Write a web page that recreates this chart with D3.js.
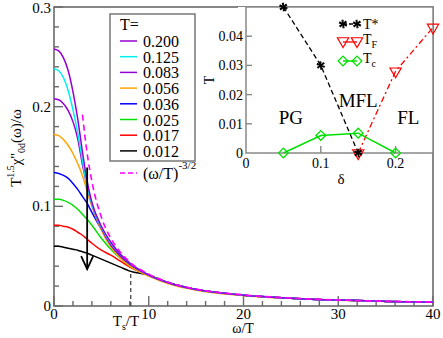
<!DOCTYPE html>
<html>
<head>
<meta charset="utf-8">
<script src="https://cdn.jsdelivr.net/npm/d3@7"></script>
<style>
  body { margin: 0; background: #fff; }
  svg { display: block; }
</style>
</head>
<body>
<div id="chart"></div>
<script>
// Main chart data
var temps = ['0.200', '0.125', '0.083', '0.056', '0.036', '0.025', '0.017', '0.012'];
var colors = ['#9400d3', '#00f0f0', '#9400d3', '#ffa500', '#0000ff', '#00e000', '#ff0000', '#000000'];
var omegaT = [0, 0.5, 1, 1.5, 2, 2.5, 3, 3.5, 4, 5, 6, 7, 8, 10, 12, 15, 20, 25, 30, 35, 40];
var tail = [0.031, 0.0235, 0.0165, 0.0108, 0.0078, 0.0059, 0.0046, 0.0037];
var chiT200 = [0.258, 0.256, 0.249, 0.236, 0.215, 0.188, 0.155, 0.125, 0.104, 0.080, 0.064, 0.052, 0.043].concat(tail);
var chiT125 = [0.238, 0.236, 0.229, 0.216, 0.197, 0.174, 0.146, 0.120, 0.102, 0.079, 0.063, 0.052, 0.043].concat(tail);
var chiT083 = [0.208, 0.207, 0.203, 0.196, 0.185, 0.168, 0.142, 0.120, 0.102, 0.078, 0.061, 0.050, 0.042].concat(tail);
var chiT056 = [0.172, 0.171, 0.167, 0.161, 0.153, 0.143, 0.131, 0.115, 0.100, 0.076, 0.059, 0.048, 0.040, 0.030, 0.0225, 0.0158, 0.0104, 0.0077, 0.0058, 0.0046, 0.0037];
var chiT036 = [0.134, 0.133, 0.131, 0.128, 0.123, 0.117, 0.110, 0.103, 0.094, 0.077, 0.062, 0.051, 0.042].concat(tail);
var chiT025 = [0.107, 0.107, 0.106, 0.104, 0.101, 0.097, 0.092, 0.087, 0.081, 0.068, 0.057, 0.048, 0.041].concat(tail);
var chiT017 = [0.081, 0.081, 0.080, 0.079, 0.077, 0.074, 0.071, 0.067, 0.063, 0.056, 0.051, 0.045, 0.039].concat(tail);
var chiT012 = [0.060, 0.060, 0.059, 0.058, 0.057, 0.056, 0.0545, 0.053, 0.051, 0.047, 0.043, 0.039, 0.035].concat(tail);
var chiSeries = [chiT200, chiT125, chiT083, chiT056, chiT036, chiT025, chiT017, chiT012];

// (omega/T)^-3/2 reference line
var powerX = [3.0, 3.5, 4, 5, 6, 7, 8, 10, 12, 15, 20, 25, 30, 35, 40];
var powerY = [0.192, 0.153, 0.125, 0.089, 0.068, 0.054, 0.044, 0.032, 0.024, 0.017, 0.0112, 0.008, 0.0061, 0.0048, 0.0040];

var tsOverT = 8.1, tsValue = 0.034;
var arrowX = 3.5, arrowTop = 0.139, arrowBottom = 0.037;

// Inset (phase diagram) data
var tStar = [[0.05, 0.05], [0.1, 0.03], [0.15, 0]];
var tF = [[0.15, 0], [0.2, 0.028], [0.25, 0.043]];
var tC = [[0.05, 0], [0.1, 0.006], [0.15, 0.0068], [0.2, 0]];
var regions = [{ name: 'PG', d: 0.06, t: 0.0125 }, { name: 'MFL', d: 0.15, t: 0.0183 }, { name: 'FL', d: 0.217, t: 0.0125 }];

var W = 443, H = 338;
var svg = d3.select('#chart').append('svg').attr('width', W).attr('height', H)
  .attr('font-family', '"Liberation Serif", Tinos, "DejaVu Serif", "Noto Serif", FreeSerif, "Times New Roman", serif');

var x = d3.scaleLinear().domain([0, 40]).range([54, 433]);
var y = d3.scaleLinear().domain([0, 0.3]).range([306, 7]);
var frame = '#6a6a6a';

// Frame
svg.append('rect')
  .attr('x', x(0)).attr('y', y(0.3))
  .attr('width', x(40) - x(0)).attr('height', y(0) - y(0.3))
  .attr('fill', 'none').attr('stroke', frame).attr('stroke-width', 1.6);

// Ticks (inward)
var xMinor = d3.range(0, 41, 2);
svg.selectAll('.xt').data(xMinor).enter().append('line')
  .attr('x1', function (d) { return x(d); }).attr('x2', function (d) { return x(d); })
  .attr('y1', y(0)).attr('y2', function (d) { return y(0) - (d % 10 === 0 ? 10 : 5); })
  .attr('stroke', frame).attr('stroke-width', 1.4);
var yMinor = d3.range(0, 0.301, 0.02);
svg.selectAll('.yt').data(yMinor).enter().append('line')
  .attr('y1', function (d) { return y(d); }).attr('y2', function (d) { return y(d); })
  .attr('x1', x(0)).attr('x2', function (d, i) { return x(0) + (i % 5 === 0 ? 9 : 5); })
  .attr('stroke', frame).attr('stroke-width', 1.4);

svg.selectAll('.xl').data([0, 10, 20, 30, 40]).enter().append('text')
  .attr('x', function (d) { return x(d); }).attr('y', 319)
  .attr('text-anchor', 'middle').attr('font-size', 15)
  .text(function (d) { return d; });
svg.selectAll('.yl').data([0, 0.1, 0.2, 0.3]).enter().append('text')
  .attr('x', 51).attr('y', function (d) { return Math.max(y(d) + 5, 13); })
  .attr('text-anchor', 'end').attr('font-size', 15)
  .text(function (d) { return d; });

// Axis titles
svg.append('text').attr('x', 243).attr('y', 333).attr('text-anchor', 'middle')
  .attr('font-size', 14).text('ω/T');
var yt = svg.append('text').attr('transform', 'translate(21,148) rotate(-90)')
  .attr('text-anchor', 'middle').attr('font-size', 15);
yt.append('tspan').text('T');
yt.append('tspan').attr('dy', -7).attr('font-size', 10).text('1.5');
yt.append('tspan').attr('dy', 7).text('χ\'\'');
yt.append('tspan').attr('dy', 4).attr('font-size', 10).text('0d');
yt.append('tspan').attr('dy', -4).text('(ω)/ω');

// Curves
svg.append('clipPath').attr('id', 'clip').append('rect')
  .attr('x', x(0)).attr('y', y(0.3)).attr('width', x(40) - x(0)).attr('height', y(0) - y(0.3));
var line = d3.line()
  .x(function (d) { return x(d[0]); })
  .y(function (d) { return y(d[1]); })
  .curve(d3.curveMonotoneX);
var plot = svg.append('g').attr('clip-path', 'url(#clip)');
chiSeries.slice().reverse().forEach(function (s, k) {
  var i = chiSeries.length - 1 - k;
  plot.append('path')
    .datum(omegaT.map(function (w, j) { return [w, s[j]]; }))
    .attr('fill', 'none').attr('stroke', colors[i]).attr('stroke-width', 1.5)
    .attr('d', line);
});
plot.append('path')
  .datum(powerX.map(function (w, j) { return [w, powerY[j]]; }))
  .attr('fill', 'none').attr('stroke', '#ff00ff').attr('stroke-width', 1.6)
  .attr('stroke-dasharray', '6,4')
  .attr('d', line);

// Ts/T marker
svg.append('line')
  .attr('x1', x(tsOverT)).attr('x2', x(tsOverT)).attr('y1', y(0)).attr('y2', y(tsValue))
  .attr('stroke', '#444').attr('stroke-width', 1.3).attr('stroke-dasharray', '4,3');
var ts = svg.append('text').attr('x', x(tsOverT) - 18).attr('y', 326).attr('font-size', 15);
ts.append('tspan').text('T');
ts.append('tspan').attr('dy', 4).attr('font-size', 10).text('s');
ts.append('tspan').attr('dy', -4).text('/T');

// Arrow
svg.append('line')
  .attr('x1', x(arrowX)).attr('x2', x(arrowX)).attr('y1', y(arrowTop)).attr('y2', y(arrowBottom))
  .attr('stroke', '#000').attr('stroke-width', 1.8);
svg.append('path')
  .attr('d', 'M' + (x(arrowX) - 6) + ',' + (y(arrowBottom) - 13) + 'L' + x(arrowX) + ',' + y(arrowBottom) +
    'L' + (x(arrowX) + 6) + ',' + (y(arrowBottom) - 13))
  .attr('fill', 'none').attr('stroke', '#000').attr('stroke-width', 1.8);

// Legend
var leg = svg.append('g');
leg.append('rect').attr('x', 110).attr('y', 14).attr('width', 85).attr('height', 147)
  .attr('fill', '#fff').attr('stroke', '#777').attr('stroke-width', 1.5);
leg.append('text').attr('x', 120).attr('y', 30).attr('font-size', 16).text('T=');
temps.forEach(function (t, i) {
  var ly = 41 + i * 15.7;
  leg.append('line').attr('x1', 120).attr('x2', 137).attr('y1', ly).attr('y2', ly)
    .attr('stroke', colors[i]).attr('stroke-width', 1.5);
  leg.append('text').attr('x', 143).attr('y', ly + 6).attr('font-size', 16).text(t);
});
leg.append('line').attr('x1', 120).attr('x2', 137).attr('y1', 173).attr('y2', 173)
  .attr('stroke', '#ff00ff').attr('stroke-width', 1.6).attr('stroke-dasharray', '5,3');
var pl = leg.append('text').attr('x', 143).attr('y', 179).attr('font-size', 16);
pl.append('tspan').text('(ω/T)');
pl.append('tspan').attr('dy', -10).attr('font-size', 11).text('-3/2');

// Inset
var ix = d3.scaleLinear().domain([0, 0.25]).range([246, 433]);
var iy = d3.scaleLinear().domain([0, 0.05]).range([153, 7]);
var inset = svg.append('g');
inset.append('rect').attr('x', 238).attr('y', 7).attr('width', 195).attr('height', 146).attr('fill', '#fff');
inset.append('rect').attr('x', ix(0)).attr('y', iy(0.05))
  .attr('width', ix(0.25) - ix(0)).attr('height', iy(0) - iy(0.05))
  .attr('fill', 'none').attr('stroke', '#888').attr('stroke-width', 1.5);
inset.selectAll('.ixt').data([0.1, 0.2]).enter().append('line')
  .attr('x1', function (d) { return ix(d); }).attr('x2', function (d) { return ix(d); })
  .attr('y1', iy(0)).attr('y2', iy(0) - 7).attr('stroke', '#888').attr('stroke-width', 1.4);
inset.selectAll('.iyt').data([0.01, 0.02, 0.03, 0.04]).enter().append('line')
  .attr('y1', function (d) { return iy(d); }).attr('y2', function (d) { return iy(d); })
  .attr('x1', ix(0)).attr('x2', ix(0) + 6).attr('stroke', '#888').attr('stroke-width', 1.4);
inset.selectAll('.ixl').data([0, 0.1, 0.2]).enter().append('text')
  .attr('x', function (d) { return ix(d); }).attr('y', 168)
  .attr('text-anchor', 'middle').attr('font-size', 14).text(function (d) { return d; });
inset.selectAll('.iyl').data([0, 0.01, 0.02, 0.03, 0.04]).enter().append('text')
  .attr('x', 243).attr('y', function (d) { return iy(d) + 5; })
  .attr('text-anchor', 'end').attr('font-size', 14).text(function (d) { return d; });
inset.append('text').attr('x', ix(0.127)).attr('y', 184).attr('text-anchor', 'middle')
  .attr('font-size', 15).text('δ');
inset.append('text').attr('transform', 'translate(214,80) rotate(-90)')
  .attr('text-anchor', 'middle').attr('font-size', 14).text('T');

regions.forEach(function (r) {
  inset.append('text').attr('x', ix(r.d)).attr('y', iy(r.t) + 7).attr('text-anchor', 'middle')
    .attr('font-size', 19).text(r.name);
});

var iline = d3.line().x(function (d) { return ix(d[0]); }).y(function (d) { return iy(d[1]); });
inset.append('path').datum(tStar).attr('d', iline).attr('fill', 'none')
  .attr('stroke', '#000').attr('stroke-width', 1.3).attr('stroke-dasharray', '5,3');
inset.append('path').datum(tF).attr('d', iline).attr('fill', 'none')
  .attr('stroke', '#ff0000').attr('stroke-width', 1.3).attr('stroke-dasharray', '6,3,2,3');
inset.append('path').datum(tC).attr('d', iline).attr('fill', 'none')
  .attr('stroke', '#00e000').attr('stroke-width', 1.5);

var star = d3.symbol().type(d3.symbolAsterisk).size(50);
var tri = d3.symbol().type(d3.symbolTriangle).size(55);
var dia = d3.symbol().type(d3.symbolDiamond2).size(60);
function drawStar(g, px, py) {
  g.append('path').attr('d', star).attr('transform', 'translate(' + px + ',' + py + ')')
    .attr('fill', 'none').attr('stroke', '#000').attr('stroke-width', 1.2);
  g.append('path').attr('d', star).attr('transform', 'translate(' + px + ',' + py + ') rotate(45)')
    .attr('fill', 'none').attr('stroke', '#000').attr('stroke-width', 1.2);
}
function drawTri(g, px, py) {
  g.append('path').attr('d', tri).attr('transform', 'translate(' + px + ',' + py + ') rotate(180)')
    .attr('fill', 'none').attr('stroke', '#ff0000').attr('stroke-width', 1.2);
}
function drawDia(g, px, py) {
  g.append('path').attr('d', dia).attr('transform', 'translate(' + px + ',' + py + ')')
    .attr('fill', 'none').attr('stroke', '#00e000').attr('stroke-width', 1.3);
}
tC.forEach(function (d) { drawDia(inset, ix(d[0]), iy(d[1])); });
tF.forEach(function (d) { drawTri(inset, ix(d[0]), iy(d[1])); });
tStar.forEach(function (d) { drawStar(inset, ix(d[0]), iy(d[1])); });

// Inset legend
var il = inset.append('g');
il.append('line').attr('x1', 343).attr('x2', 357).attr('y1', 24).attr('y2', 24)
  .attr('stroke', '#000').attr('stroke-width', 1.3).attr('stroke-dasharray', '4,2');
drawStar(il, 343, 24); drawStar(il, 357, 24);
il.append('text').attr('x', 363).attr('y', 29).attr('font-size', 14).text('T*');
il.append('line').attr('x1', 343).attr('x2', 357).attr('y1', 42).attr('y2', 42)
  .attr('stroke', '#ff0000').attr('stroke-width', 1.3);
drawTri(il, 343, 41); drawTri(il, 357, 41);
var tfl = il.append('text').attr('x', 363).attr('y', 44).attr('font-size', 14);
tfl.append('tspan').text('T');
tfl.append('tspan').attr('dy', 4).attr('font-size', 10).text('F');
il.append('line').attr('x1', 343).attr('x2', 357).attr('y1', 61).attr('y2', 61)
  .attr('stroke', '#00e000').attr('stroke-width', 1.5);
drawDia(il, 343, 61); drawDia(il, 357, 61);
var tcl = il.append('text').attr('x', 363).attr('y', 63).attr('font-size', 14);
tcl.append('tspan').text('T');
tcl.append('tspan').attr('dy', 4).attr('font-size', 10).text('c');
</script>
</body>
</html>
